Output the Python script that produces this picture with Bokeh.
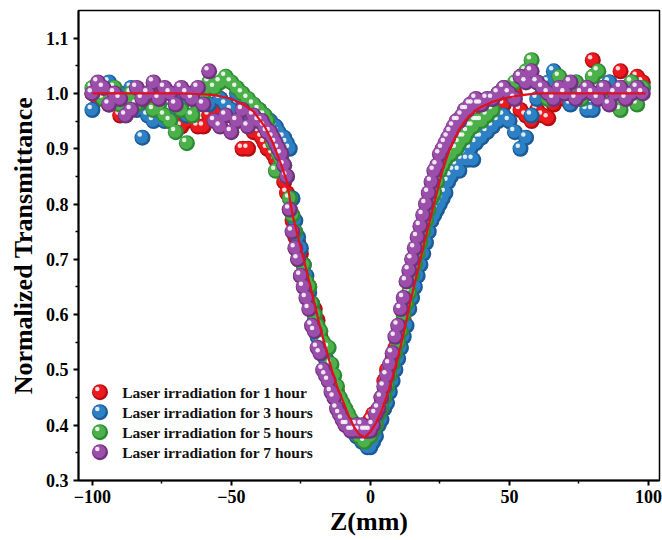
from bokeh.plotting import figure
from bokeh.models import Range1d, CustomJSTickFormatter, FixedTicker
from bokeh.core.properties import value
from bokeh.embed import file_html
from bokeh.resources import INLINE

# ---------------- data ----------------
# scan positions: 2 mm steps on the wings, 1 mm steps around the focus
z = list(range(-100, -39, 2)) + list(range(-39, 40)) + list(range(40, 100, 2))

t_1h = [1.00, 0.99, 1.01, 0.98, 0.99, 0.96, 0.97, 1.00, 0.99, 0.98,
        0.99, 1.00, 0.97, 0.96, 0.95, 0.96, 0.94, 0.95, 0.97, 0.94,
        0.94, 0.96, 0.97, 0.99, 0.98, 0.96, 0.95, 0.90, 0.90, 0.93, 0.93,
        # -39 .. 39
        0.92, 0.91, 0.90, 0.90, 0.89, 0.88, 0.87, 0.86, 0.84, 0.82,
        0.79, 0.77, 0.74, 0.73, 0.71, 0.69, 0.66, 0.65, 0.62, 0.61,
        0.59, 0.56, 0.54, 0.52, 0.50, 0.49, 0.47, 0.46, 0.44, 0.43,
        0.42, 0.41, 0.40, 0.39, 0.40, 0.39, 0.39, 0.38, 0.40, 0.41,
        0.42, 0.41, 0.43, 0.45, 0.48, 0.50, 0.50, 0.52, 0.54, 0.55,
        0.57, 0.59, 0.62, 0.64, 0.66, 0.69, 0.71, 0.73, 0.75, 0.76,
        0.78, 0.80, 0.82, 0.84, 0.85, 0.87, 0.88, 0.89, 0.90, 0.91,
        0.92, 0.93, 0.93, 0.94, 0.945, 0.95, 0.96, 0.96, 0.97,
        # 40 .. 98
        0.97, 0.96, 0.98, 0.99, 0.98, 0.95, 1.00, 0.97, 0.96, 0.95,
        0.97, 0.96, 0.955, 0.98, 1.00, 0.99, 1.01, 1.00, 0.99, 1.01,
        1.06, 1.00, 1.01, 1.02, 0.99, 1.04, 1.01, 1.00, 1.03, 1.02]

t_3h = [0.97, 1.01, 1.00, 1.02, 0.99, 1.00, 0.98, 1.01, 0.97, 0.92,
        0.96, 0.95, 0.96, 0.95, 0.97, 0.99, 0.98, 0.96, 1.00, 0.99,
        1.00, 0.98, 1.01, 0.99, 0.98, 0.97, 1.00, 0.99, 0.96, 0.97, 0.97,
        # -39 .. 39
        0.96, 0.96, 0.95, 0.95, 0.94, 0.94, 0.93, 0.92, 0.92, 0.91,
        0.90, 0.81, 0.77, 0.74, 0.72, 0.69, 0.67, 0.64, 0.62, 0.59,
        0.56, 0.55, 0.54, 0.52, 0.50, 0.48, 0.47, 0.45, 0.44, 0.43,
        0.42, 0.41, 0.40, 0.39, 0.38, 0.38, 0.37, 0.37, 0.36, 0.36,
        0.37, 0.38, 0.40, 0.41, 0.43, 0.44, 0.46, 0.48, 0.50, 0.52,
        0.54, 0.56, 0.58, 0.61, 0.63, 0.65, 0.67, 0.69, 0.71, 0.73,
        0.75, 0.77, 0.78, 0.79, 0.80, 0.81, 0.82, 0.84, 0.85, 0.86,
        0.87, 0.86, 0.88, 0.89, 0.88, 0.90, 0.88, 0.91, 0.92,
        # 40 .. 98
        0.92, 0.93, 0.94, 0.95, 0.96, 0.95, 0.93, 0.90, 0.92, 0.96,
        0.99, 1.00, 1.02, 1.04, 1.01, 1.00, 0.98, 1.02, 1.00, 0.97,
        0.97, 1.01, 1.00, 1.02, 0.99, 1.01, 1.00, 1.02, 1.00, 1.01]

t_5h = [1.01, 1.00, 0.99, 1.00, 1.01, 0.98, 0.99, 1.00, 0.98, 0.99,
        1.00, 0.97, 0.98, 0.96, 0.95, 0.93, 0.97, 0.91, 0.96, 0.98,
        1.00, 1.02, 1.01, 1.02, 1.03, 1.02, 1.01, 1.00, 0.99, 0.98, 0.97,
        # -39 .. 39
        0.96, 0.96, 0.95, 0.93, 0.91, 0.86, 0.89, 0.88, 0.87, 0.85,
        0.81, 0.78, 0.75, 0.70, 0.67, 0.69, 0.66, 0.65, 0.62, 0.60,
        0.58, 0.57, 0.55, 0.54, 0.54, 0.51, 0.49, 0.47, 0.45, 0.44,
        0.43, 0.42, 0.41, 0.40, 0.39, 0.38, 0.38, 0.37, 0.38, 0.38,
        0.39, 0.40, 0.42, 0.43, 0.45, 0.47, 0.49, 0.51, 0.53, 0.55,
        0.57, 0.60, 0.62, 0.64, 0.67, 0.69, 0.71, 0.73, 0.75, 0.77,
        0.79, 0.81, 0.82, 0.84, 0.86, 0.87, 0.88, 0.89, 0.89, 0.90,
        0.90, 0.91, 0.92, 0.92, 0.93, 0.94, 0.94, 0.95, 0.95,
        # 40 .. 98
        0.95, 0.96, 0.97, 1.00, 1.01, 1.00, 1.02, 1.03, 1.04, 1.06,
        1.02, 1.01, 0.99, 1.00, 1.03, 1.01, 1.00, 1.02, 0.99, 1.00,
        1.03, 1.04, 1.01, 1.00, 0.99, 0.97, 1.01, 1.02, 0.98, 1.01]

t_7h = [1.00, 1.02, 1.01, 0.98, 1.00, 0.99, 0.96, 0.97, 1.01, 0.99,
        1.00, 1.02, 0.99, 1.01, 1.00, 0.98, 1.01, 1.00, 0.99, 1.01,
        0.98, 1.04, 0.95, 0.94, 0.96, 0.93, 0.95, 0.97, 0.94, 0.96, 0.95,
        # -39 .. 39
        0.95, 0.94, 0.93, 0.93, 0.92, 0.91, 0.90, 0.89, 0.87, 0.85,
        0.79, 0.75, 0.72, 0.70, 0.67, 0.65, 0.63, 0.61, 0.58, 0.57,
        0.54, 0.53, 0.50, 0.49, 0.48, 0.46, 0.45, 0.43, 0.42, 0.41,
        0.40, 0.40, 0.39, 0.39, 0.40, 0.39, 0.40, 0.39, 0.39, 0.39,
        0.40, 0.42, 0.43, 0.45, 0.47, 0.49, 0.51, 0.53, 0.56, 0.58,
        0.61, 0.63, 0.66, 0.68, 0.70, 0.72, 0.74, 0.76, 0.78, 0.80,
        0.82, 0.84, 0.86, 0.87, 0.89, 0.90, 0.91, 0.92, 0.93, 0.94,
        0.95, 0.95, 0.96, 0.97, 0.97, 0.98, 0.98, 0.99, 0.98,
        # 40 .. 98
        0.98, 0.99, 0.99, 1.00, 1.01, 1.00, 0.99, 1.03, 1.02, 1.04,
        1.02, 1.01, 1.00, 0.99, 1.01, 1.00, 1.02, 0.99, 1.00, 1.01,
        1.00, 0.99, 1.01, 0.98, 1.00, 1.01, 0.99, 1.00, 1.01, 1.00]

fit_z = [-100, -80, -70, -62, -58, -54, -50, -46, -42, -38,
         -35, -32, -30, -28, -26, -24, -22, -20, -18, -16,
         -14, -12, -10, -8, -6, -4, -2, 0, 2, 4,
         6, 8, 10, 12, 14, 16, 18, 20, 22, 24,
         26, 28, 30, 32, 34, 36, 38, 40, 44, 48,
         52, 56, 60, 70, 80, 99]
fit_t = [1.000, 1.000, 1.000, 0.999, 0.998, 0.995, 0.990, 0.981, 0.967, 0.940,
         0.910, 0.870, 0.840, 0.780, 0.740, 0.700, 0.660, 0.618, 0.576, 0.538,
         0.503, 0.470, 0.445, 0.420, 0.398, 0.383, 0.378, 0.388, 0.404, 0.425,
         0.455, 0.487, 0.525, 0.566, 0.615, 0.658, 0.700, 0.742, 0.782, 0.822,
         0.862, 0.892, 0.915, 0.935, 0.950, 0.961, 0.970, 0.976, 0.985, 0.991,
         0.995, 0.998, 1.000, 1.000, 1.000, 1.000]

labels = ["Laser irradiation for 1 hour", "Laser irradiation for 3 hours",
          "Laser irradiation for 5 hours", "Laser irradiation for 7 hours"]
series = [t_1h, t_3h, t_5h, t_7h]
colors = ["#ec1a1e", "#2e80c4", "#4cb14a", "#9b4fab"]
dark = ["#b30d12", "#1b5b97", "#2c8a33", "#70317d"]

# ---------------- figure ----------------
W, H = 662, 540
ML, MR, MT, MB = 78, 3, 10, 60
X0, X1, Y0, Y1 = -105, 104, 0.3, 1.15

p = figure(width=W, height=H, output_backend="svg", toolbar_location=None,
           x_range=Range1d(X0, X1), y_range=Range1d(Y0, Y1),
           min_border_left=ML, min_border_right=MR, min_border_top=MT,
           min_border_bottom=MB)
p.background_fill_color = "white"
p.border_fill_color = "white"
p.grid.visible = False
p.outline_line_color = "black"
p.outline_line_width = 1.5

# pixel -> data conversion for shading offsets and legend placement
fw = W - ML - MR
fh = H - MT - MB
dxp = (X1 - X0) / fw
dyp = (Y1 - Y0) / fh


def balls(xs, ys, c, d, size=16):
    p.scatter(xs, ys, size=size, fill_color=d, line_color=None)
    p.scatter([v - 0.8 * dxp for v in xs], [v + 0.8 * dyp for v in ys],
              size=size - 3, fill_color=c, line_color=None)
    p.scatter([v - 2.7 * dxp for v in xs], [v + 3.1 * dyp for v in ys],
              size=4.5, fill_color="white", fill_alpha=0.85, line_color=None)


for t, c, d in zip(series, colors, dark):
    balls(z, t, c, d)

p.line(fit_z, fit_t, line_color="#e3101c", line_width=2.2)

# legend (drawn in the lower-left corner of the frame)
leg_px_x = 21.5          # ball centre, px from frame left
leg_px_y0 = 381.7        # first row centre, px from frame top
leg_row = 20.0
leg_text_x = 43.7
for i, (lab, c, d) in enumerate(zip(labels, colors, dark)):
    yy = Y1 - (leg_px_y0 + i * leg_row) * dyp
    balls([X0 + leg_px_x * dxp], [yy], c, d)
    p.text([X0 + leg_text_x * dxp], [yy], text=[lab],
           text_font=value("Liberation Serif"), text_font_style="bold",
           text_font_size="15.5px", text_baseline="middle",
           text_align="left", text_color="#111111")

# ---------------- axes ----------------
p.xaxis.ticker = FixedTicker(ticks=[-100, -50, 0, 50, 100],
                             minor_ticks=[-75, -25, 25, 75])
p.yaxis.ticker = FixedTicker(ticks=[0.3, 0.4, 0.5, 0.6, 0.7, 0.8, 0.9, 1.0, 1.1],
                             minor_ticks=[0.35, 0.45, 0.55, 0.65, 0.75, 0.85,
                                          0.95, 1.05])
p.xaxis.formatter = CustomJSTickFormatter(
    code="return tick < 0 ? '\u2212' + Math.abs(tick) : String(tick);")
p.yaxis.formatter = CustomJSTickFormatter(code="return tick.toFixed(1);")

for ax in (p.xaxis, p.yaxis):
    ax.axis_line_width = 2
    ax.axis_line_color = "black"
    ax.major_tick_line_width = 2
    ax.minor_tick_line_width = 1.5
    ax.major_tick_out = 5
    ax.major_tick_in = 0
    ax.minor_tick_out = 3
    ax.minor_tick_in = 0
    ax.major_label_text_font = "Liberation Serif"
    ax.major_label_text_font_style = "bold"
    ax.major_label_text_font_size = "18px"
    ax.major_label_text_color = "black"
    ax.axis_label_text_font = "Liberation Serif"
    ax.axis_label_text_font_style = "bold"
    ax.axis_label_text_color = "black"

p.xaxis.axis_label = "Z(mm)"
p.xaxis.axis_label_text_font_size = "26px"
p.xaxis.axis_label_standoff = 1
p.xaxis.major_label_standoff = 4
p.yaxis.axis_label = "Normalized Transmittance"
p.yaxis.axis_label_text_font_size = "26px"
p.yaxis.axis_label_standoff = 5
p.yaxis.major_label_standoff = 5

open("out.html", "w").write(file_html(p, INLINE))
